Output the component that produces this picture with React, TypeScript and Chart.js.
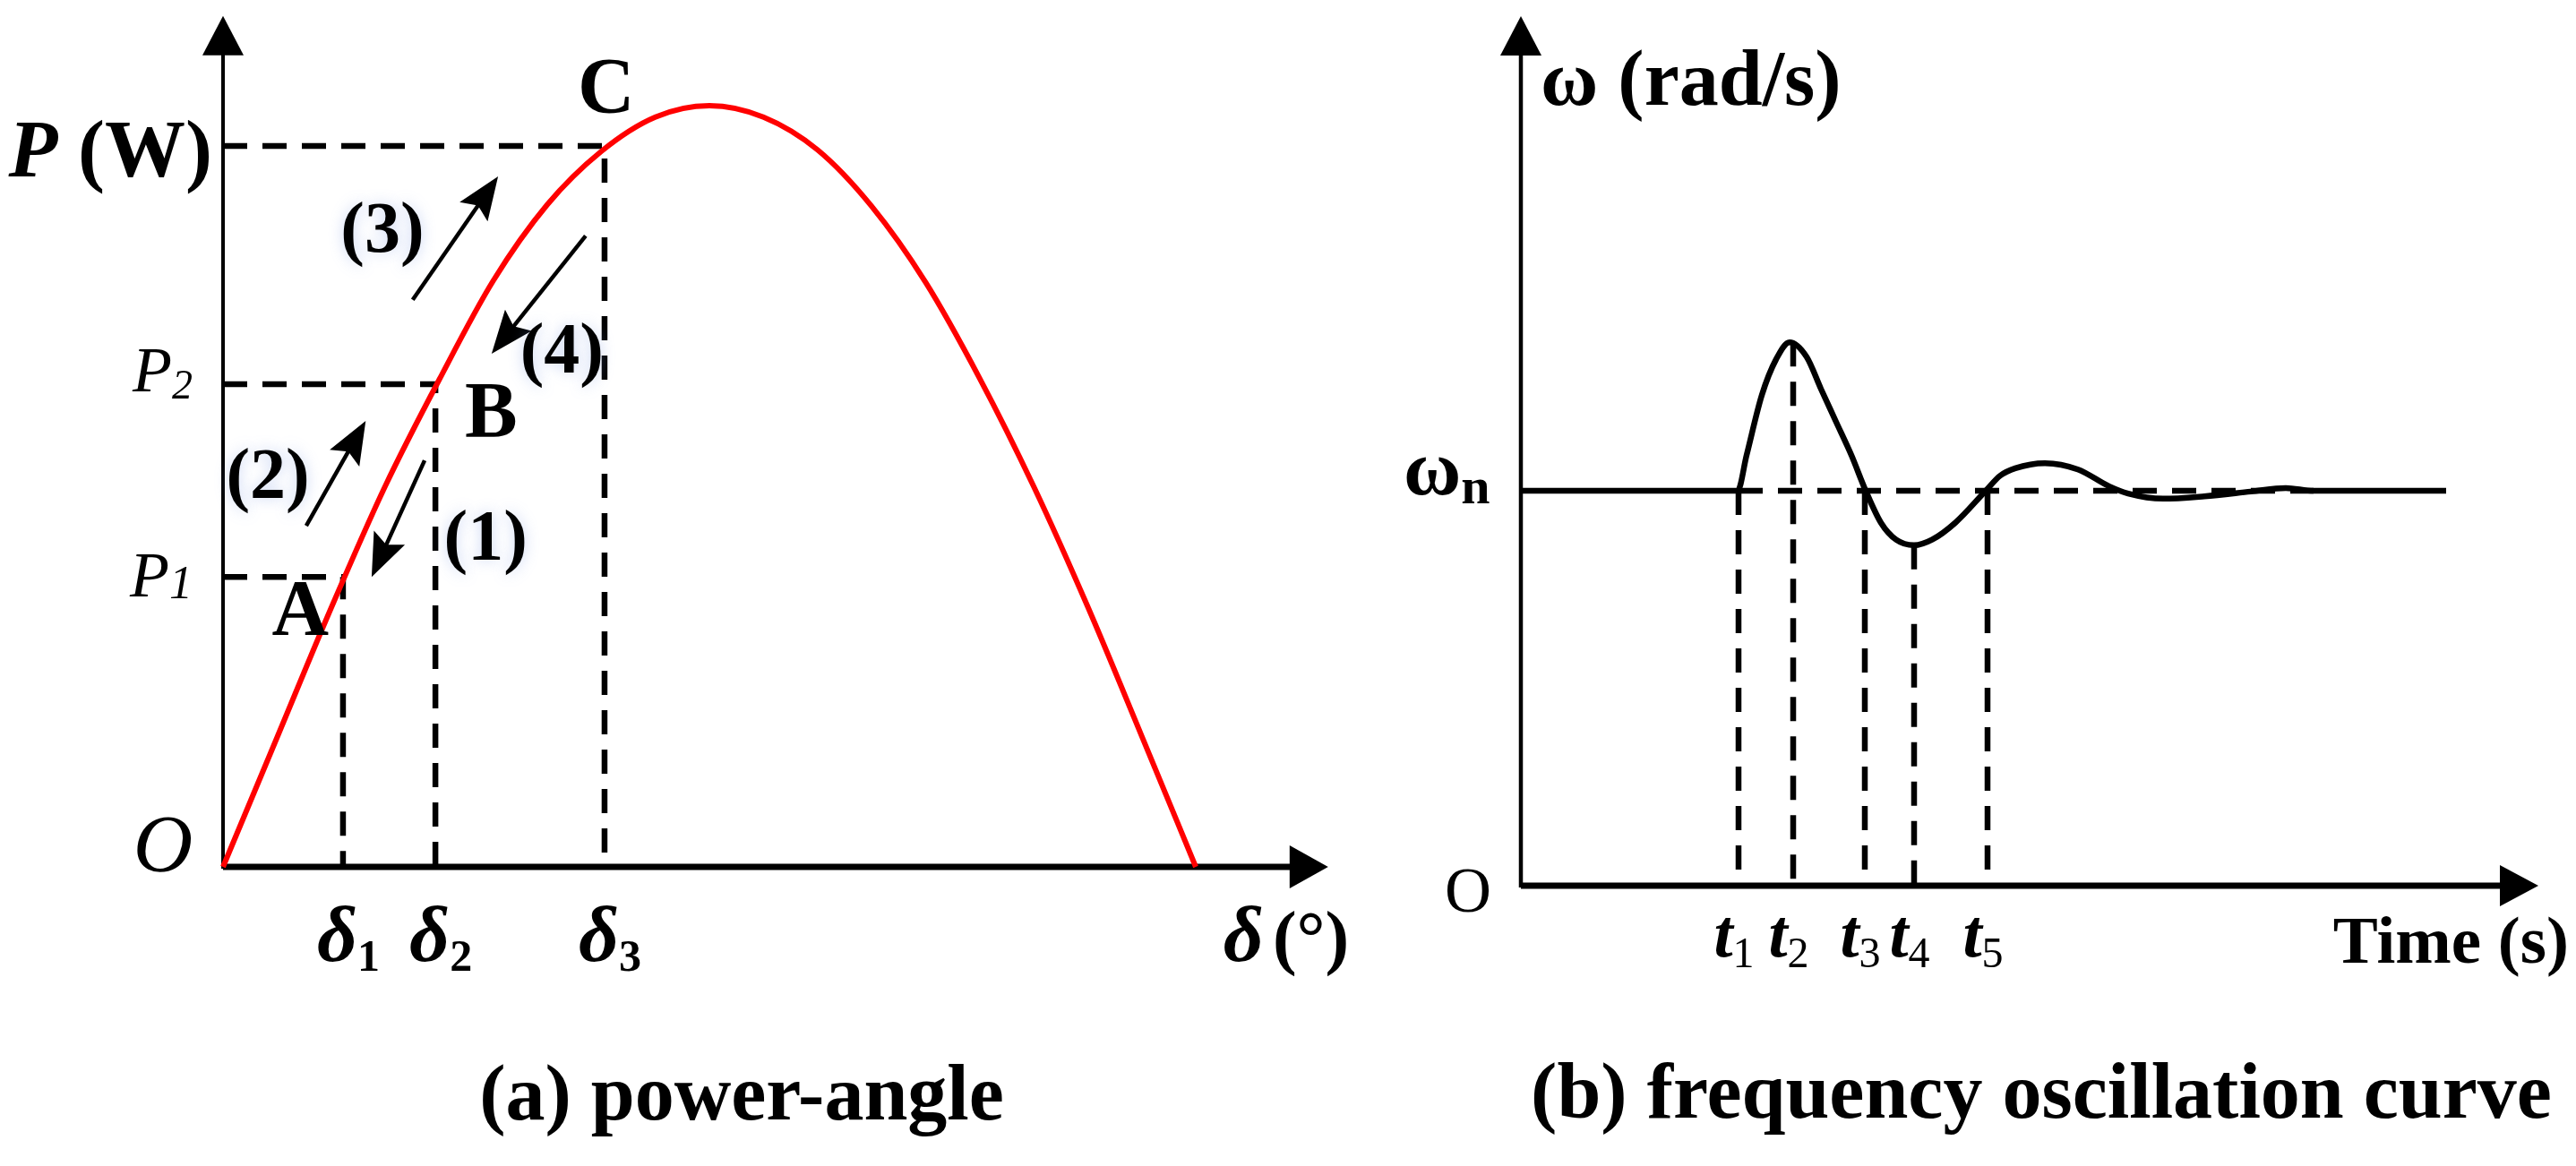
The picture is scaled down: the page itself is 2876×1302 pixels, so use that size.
import React, { useEffect, useRef } from 'react';
import { Chart, registerables } from 'chart.js';

Chart.register(...registerables);

const W = 2876;
const H = 1302;
const SERIF = "'Liberation Serif', 'Times New Roman', serif";

// ---------- (a) power-angle ----------
const deltaDeg = [0, 10, 20, 30, 40, 50, 60, 70, 80, 90, 100, 110, 120, 130, 140, 150, 160, 170, 180];
const powerW = [0, 0.17, 0.34, 0.5, 0.64, 0.77, 0.87, 0.94, 0.985, 1.0, 0.985, 0.942, 0.868, 0.768, 0.642, 0.5, 0.342, 0.172, 0];
const deltaMarks = [22.2, 39.3, 70.6];
const powerMarks = [0.381, 0.634, 0.947];
const deltaTickSubs = ['1', '2', '3'];
const pointNames = ['A', 'B', 'C'];
const stepNames = ['(1)', '(2)', '(3)', '(4)'];
const DELTA_MAX = 180;
const DELTA_AXIS_END = 204.5;
const P_AXIS_END = 1.118;

// ---------- (b) frequency oscillation ----------
const timeS = [0, 2.42, 2.52, 2.69, 2.85, 3.0, 3.19, 3.35, 3.52, 3.69, 3.85, 4.02, 4.19, 4.39, 4.59, 4.85, 5.19, 5.35, 5.52, 5.85, 6.22, 6.57, 6.78, 7.17, 7.63, 8.15, 8.54, 8.85, 10.33];
const omega = [1.0, 1.0, 1.09, 1.242, 1.333, 1.376, 1.339, 1.258, 1.174, 1.09, 1.0, 0.919, 0.876, 0.862, 0.876, 0.919, 1.0, 1.038, 1.057, 1.07, 1.054, 1.011, 0.993, 0.98, 0.986, 0.998, 1.007, 1.0, 1.0];
const tMarks = [2.43, 3.04, 3.84, 4.39, 5.21];
const tMarkTop = [1.0, 1.376, 1.0, 0.862, 1.0];
const tTickSubs = ['1', '2', '3', '4', '5'];
const OMEGA_N = 1.0;
const REF_LINE_END = 8.85;
const T_AXIS_END = 11.36;
const W_AXIS_END = 2.202;

// annotation positions (data units of panel a)
const stepArrows = [
  [37.3, 0.534, 27.5, 0.381],
  [15.4, 0.448, 26.4, 0.586],
  [35.1, 0.745, 50.9, 0.907],
  [67.1, 0.829, 49.7, 0.674],
];
const stepLabelPos = [[48.6, 0.428], [8.3, 0.509], [29.5, 0.833], [62.7, 0.674]];
const pointLabelPos = [[14.3, 0.333], [49.6, 0.593], [70.9, 1.018]];

function txt(ctx: any, s: string, x: number, y: number, font: string, align = 'left', baseline = 'alphabetic') {
  ctx.font = font;
  ctx.textAlign = align;
  ctx.textBaseline = baseline;
  ctx.fillText(s, x, y);
}

function subLabel(ctx: any, main: string, sub: string, cx: number, baseY: number, mainFont: string, subFont: string, subDy: number, align = 'center') {
  ctx.font = mainFont;
  const w1 = ctx.measureText(main).width;
  ctx.font = subFont;
  const w2 = ctx.measureText(sub).width;
  let left = cx - (w1 + w2) / 2;
  if (align === 'right') left = cx - (w1 + w2);
  if (align === 'left') left = cx;
  txt(ctx, main, left, baseY, mainFont);
  txt(ctx, sub, left + w1, baseY + subDy, subFont);
}

function head(ctx: any, tipX: number, tipY: number, fromX: number, fromY: number, len: number, halfW: number, notch = 1) {
  const a = Math.atan2(tipY - fromY, tipX - fromX);
  const c = Math.cos(a), s = Math.sin(a);
  const bx = tipX - len * c, by = tipY - len * s;
  const nx = tipX - len * notch * c, ny = tipY - len * notch * s;
  ctx.beginPath();
  ctx.moveTo(tipX, tipY);
  ctx.lineTo(bx - s * halfW, by + c * halfW);
  ctx.lineTo(nx, ny);
  ctx.lineTo(bx + s * halfW, by - c * halfW);
  ctx.closePath();
  ctx.fill();
}

function arrow(ctx: any, x1: number, y1: number, x2: number, y2: number, lw: number, len: number, halfW: number, notch = 1) {
  const a = Math.atan2(y2 - y1, x2 - x1);
  ctx.lineWidth = lw;
  ctx.beginPath();
  ctx.moveTo(x1, y1);
  ctx.lineTo(x2 - len * 0.7 * Math.cos(a), y2 - len * 0.7 * Math.sin(a));
  ctx.stroke();
  head(ctx, x2, y2, x1, y1, len, halfW, notch);
}

const leftDecor = {
  id: 'leftDecor',
  beforeDatasetsDraw(chart: any) {
    const { ctx, scales } = chart;
    const x = scales.x, y = scales.y;
    const x0 = x.getPixelForValue(0), y0 = y.getPixelForValue(0);
    const xe = x.getPixelForValue(DELTA_AXIS_END), ye = y.getPixelForValue(P_AXIS_END);
    ctx.save();
    ctx.strokeStyle = '#000';
    ctx.fillStyle = '#000';
    ctx.lineWidth = 4;
    ctx.beginPath(); ctx.moveTo(x0, y0 + 2); ctx.lineTo(x0, ye + 30); ctx.stroke();
    head(ctx, x0, ye, x0, y0, 44, 23);
    ctx.lineWidth = 7;
    ctx.beginPath(); ctx.moveTo(x0, y0); ctx.lineTo(xe - 30, y0); ctx.stroke();
    head(ctx, xe, y0, x0, y0, 43, 24);
    ctx.restore();
  },
  afterDatasetsDraw(chart: any) {
    const { ctx, scales } = chart;
    const x = scales.x, y = scales.y;
    const px = (v: number) => x.getPixelForValue(v);
    const py = (v: number) => y.getPixelForValue(v);
    const x0 = px(0), y0 = py(0);
    ctx.save();
    ctx.fillStyle = '#000';
    ctx.strokeStyle = '#000';

    // P (W)
    const fPi = `italic bold 90px ${SERIF}`;
    const fB90 = `bold 90px ${SERIF}`;
    ctx.font = fPi; const wP = ctx.measureText('P').width;
    ctx.font = fB90; const wW = ctx.measureText(' (W)').width;
    const rr = x0 - 12, bb = py(powerMarks[2]) + 34;
    txt(ctx, 'P', rr - wP - wW, bb, fPi);
    txt(ctx, ' (W)', rr - wW, bb, fB90);

    // P2, P1
    const fPs = `italic 72px ${SERIF}`;
    subLabel(ctx, 'P', '2', x0 - 34, py(powerMarks[1]) + 8, fPs, `italic 46px ${SERIF}`, 8, 'right');
    subLabel(ctx, 'P', '1', x0 - 34, py(powerMarks[0]) + 22, fPs, `italic 52px ${SERIF}`, 2, 'right');

    // O
    txt(ctx, 'O', x0 - 67, y0 + 5, `italic 92px ${SERIF}`, 'center');

    // delta ticks
    deltaMarks.forEach((d, i) => {
      subLabel(ctx, 'δ', deltaTickSubs[i], px(d) + 6, y0 + 105, `italic bold 88px ${SERIF}`, `bold 50px ${SERIF}`, 11);
    });
    // axis name
    const fd = `italic bold 88px ${SERIF}`;
    ctx.font = fd; const wd = ctx.measureText('δ').width;
    const lx = px(DELTA_AXIS_END) - 117;
    txt(ctx, 'δ', lx, y0 + 105, fd);
    txt(ctx, '(°)', lx + wd + 10, y0 + 105, `bold 80px ${SERIF}`);

    // point names
    pointNames.forEach((n, i) => {
      txt(ctx, n, px(pointLabelPos[i][0]), py(pointLabelPos[i][1]), `bold 88px ${SERIF}`, 'center', 'middle');
    });

    // step arrows
    stepArrows.forEach((a) => {
      arrow(ctx, px(a[0]), py(a[1]), px(a[2]), py(a[3]), 4.5, 48, 19, 0.82);
    });

    // step labels with a faint glow
    ctx.save();
    ctx.shadowColor = 'rgba(120,150,225,0.38)';
    ctx.shadowBlur = 16;
    stepNames.forEach((n, i) => {
      txt(ctx, n, px(stepLabelPos[i][0]), py(stepLabelPos[i][1]), `bold 80px ${SERIF}`, 'center', 'middle');
    });
    ctx.restore();

    // title
    txt(ctx, '(a) power-angle', px(DELTA_MAX / 2) + 36, y0 + 282, `bold 88px ${SERIF}`, 'center');
    ctx.restore();
  },
};

const rightDecor = {
  id: 'rightDecor',
  beforeDatasetsDraw(chart: any) {
    const { ctx, scales } = chart;
    const x = scales.x, y = scales.y;
    const x0 = x.getPixelForValue(0), y0 = y.getPixelForValue(0);
    const xe = x.getPixelForValue(T_AXIS_END), ye = y.getPixelForValue(W_AXIS_END);
    ctx.save();
    ctx.strokeStyle = '#000';
    ctx.fillStyle = '#000';
    ctx.lineWidth = 4.5;
    ctx.beginPath(); ctx.moveTo(x0, y0 + 2); ctx.lineTo(x0, ye + 30); ctx.stroke();
    head(ctx, x0, ye, x0, y0, 44, 23);
    ctx.lineWidth = 7;
    ctx.beginPath(); ctx.moveTo(x0, y0); ctx.lineTo(xe - 30, y0); ctx.stroke();
    head(ctx, xe, y0, x0, y0, 43, 23);
    ctx.restore();
  },
  afterDatasetsDraw(chart: any) {
    const { ctx, scales } = chart;
    const x = scales.x, y = scales.y;
    const px = (v: number) => x.getPixelForValue(v);
    const py = (v: number) => y.getPixelForValue(v);
    const x0 = px(0), y0 = py(0);
    ctx.save();
    ctx.fillStyle = '#000';
    txt(ctx, 'ω (rad/s)', x0 + 22, py(W_AXIS_END) + 99, `bold 88px ${SERIF}`);
    subLabel(ctx, 'ω', 'n', x0 - 131, py(OMEGA_N) + 4, `bold 88px ${SERIF}`, `bold 58px ${SERIF}`, 10, 'left');
    txt(ctx, 'O', x0 - 59, y0 + 29, `72px ${SERIF}`, 'center');
    tMarks.forEach((t, i) => {
      subLabel(ctx, 't', tTickSubs[i], px(t) - 5, y0 + 79, `italic bold 76px ${SERIF}`, `48px ${SERIF}`, 12);
    });
    txt(ctx, 'Time (s)', px(T_AXIS_END) + 34, y0 + 86, `bold 75px ${SERIF}`, 'right');
    txt(ctx, '(b) frequency oscillation curve', px(5.81), y0 + 259, `bold 88px ${SERIF}`, 'center');
    ctx.restore();
  },
};

const DASH = [27, 17];

function dashed(points: { x: number; y: number }[]) {
  return {
    data: points,
    showLine: true,
    borderColor: '#000',
    borderWidth: 6.5,
    borderDash: DASH,
    borderCapStyle: 'butt',
    pointRadius: 0,
    tension: 0,
    clip: false,
  };
}

export default function App() {
  const leftRef = useRef<HTMLCanvasElement>(null);
  const rightRef = useRef<HTMLCanvasElement>(null);

  useEffect(() => {
    const curve = deltaDeg.map((d, i) => ({ x: d, y: powerW[i] }));
    const leftSets: any[] = [
      {
        data: curve,
        showLine: true,
        borderColor: '#ff0000',
        borderWidth: 6,
        pointRadius: 0,
        cubicInterpolationMode: 'monotone',
        clip: false,
      },
    ];
    deltaMarks.forEach((d, i) => {
      leftSets.push(dashed([{ x: 0, y: powerMarks[i] }, { x: d, y: powerMarks[i] }, { x: d, y: 0 }]));
    });

    const left = new Chart(leftRef.current as HTMLCanvasElement, {
      type: 'scatter',
      data: { datasets: leftSets },
      options: {
        responsive: false,
        maintainAspectRatio: false,
        animation: false,
        events: [],
        layout: { padding: { left: 249, right: W - 1335, top: 118, bottom: H - 968 } },
        scales: {
          x: { type: 'linear', min: 0, max: DELTA_MAX, display: false },
          y: { type: 'linear', min: 0, max: 1, display: false },
        },
        plugins: { legend: { display: false }, tooltip: { enabled: false } },
      } as any,
      plugins: [leftDecor],
    });

    const wave = timeS.map((t, i) => ({ x: t, y: omega[i] }));
    const rightSets: any[] = [
      {
        data: wave,
        showLine: true,
        borderColor: '#000',
        borderWidth: 6.5,
        pointRadius: 0,
        cubicInterpolationMode: 'monotone',
        clip: false,
      },
      dashed([{ x: tMarks[0], y: OMEGA_N }, { x: REF_LINE_END, y: OMEGA_N }]),
    ];
    tMarks.forEach((t, i) => {
      rightSets.push(dashed([{ x: t, y: tMarkTop[i] }, { x: t, y: 0 }]));
    });

    const right = new Chart(rightRef.current as HTMLCanvasElement, {
      type: 'scatter',
      data: { datasets: rightSets },
      options: {
        responsive: false,
        maintainAspectRatio: false,
        animation: false,
        events: [],
        layout: { padding: { left: 1698, right: W - 2698, top: 548, bottom: H - 989 } },
        scales: {
          x: { type: 'linear', min: 0, max: 10, display: false },
          y: { type: 'linear', min: 0, max: 1, display: false },
        },
        plugins: { legend: { display: false }, tooltip: { enabled: false } },
      } as any,
      plugins: [rightDecor],
    });

    return () => {
      left.destroy();
      right.destroy();
    };
  }, []);

  const cs: React.CSSProperties = { position: 'absolute', left: 0, top: 0, width: W, height: H };
  return (
    <div style={{ position: 'absolute', left: 0, top: 0, width: W, height: H, background: '#fff', overflow: 'hidden' }}>
      <canvas ref={leftRef} width={W} height={H} style={cs} />
      <canvas ref={rightRef} width={W} height={H} style={cs} />
    </div>
  );
}
